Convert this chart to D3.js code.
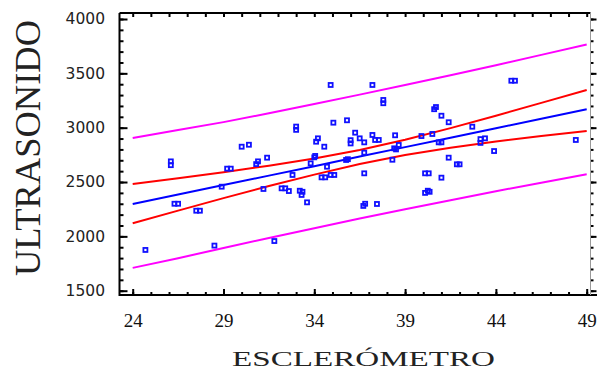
<!DOCTYPE html>
<html>
<head>
<meta charset="utf-8">
<script src="https://cdn.jsdelivr.net/npm/d3@7"></script>
<style>
  body { margin: 0; background: #fff; }
  svg { display: block; }
</style>
</head>
<body>
<svg id="chart"></svg>
<script>
// scatter: esclerómetro (x) vs ultrasonido (y)
const esclerometro = [24.7, 26.1, 26.1, 26.3, 26.5, 27.5, 27.7, 28.5, 28.9, 29.2, 29.4, 30.0, 30.4, 30.8, 30.9,
  31.4, 31.2, 31.8, 32.2, 32.4, 32.6, 32.8, 33.0, 33.0, 33.2, 33.35, 33.3, 33.6, 33.8, 34.0, 34.05, 34.2, 34.1,
  34.55, 34.7, 34.4, 34.6, 34.9, 34.9, 35.1, 35.05, 35.8, 35.75, 35.85, 36.0, 36.0, 36.25, 36.5, 36.75, 36.75,
  36.75, 36.7, 36.8, 37.45, 37.2, 37.8, 37.8, 37.2, 37.35, 37.55, 38.3, 38.45, 38.65, 38.4, 38.5, 39.9, 40.5,
  40.85, 41.0, 40.6, 40.7, 41.0, 41.4, 40.1, 40.3, 40.1, 40.25, 40.35, 41.4, 41.85, 42.0, 41.0, 42.7, 43.15,
  43.15, 43.4, 43.9, 44.85, 45.05, 48.4];
const ultrasonido = [1875, 2655, 2690, 2300, 2300, 2236, 2236, 1915, 2457, 2623, 2623, 2825, 2843, 2665, 2690,
  2724, 2436, 1957, 2442, 2442, 2417, 2565, 2980, 3010, 2420, 2410, 2381, 2313, 2672, 2727, 2740, 2902, 2871,
  2825, 2641, 2543, 2543, 3393, 2565, 2565, 3046, 3068, 2703, 2710, 2855, 2885, 2954, 2902, 2865, 2770,
  2580, 2280, 2300, 2298, 3393, 3225, 3255, 2933, 2887, 2887, 2705, 2930, 2841, 2810, 2800, 2923, 2942,
  2865, 2865, 3170, 3190, 3110, 3050, 2580, 2580, 2400, 2420, 2410, 2724, 2663, 2663, 2540, 3009, 2860,
  2895, 2902, 2785, 3432, 3432, 2887];

// fitted line and limits, read at these x positions
const lineX = [24, 26.5, 29, 31.5, 34, 36.5, 39, 41.5, 44, 46.5, 49];
const fitY = [2298, 2385, 2472, 2559, 2646, 2734, 2821, 2908, 2995, 3082, 3169];
const confUpper = [2482, 2534, 2590, 2650, 2717, 2795, 2889, 2996, 3110, 3228, 3347];
const confLower = [2120, 2237, 2352, 2463, 2568, 2665, 2749, 2816, 2873, 2923, 2969];
const predUpper = [2905, 2978, 3051, 3133, 3217, 3304, 3392, 3483, 3575, 3670, 3766];
const predLower = [1710, 1799, 1893, 1985, 2075, 2164, 2250, 2333, 2415, 2494, 2572];

const xTicks = [24, 29, 34, 39, 44, 49];
const yTicks = [1500, 2000, 2500, 3000, 3500, 4000];

const W = 597, H = 372;
const frame = { left: 119.5, right: 590.5, top: 13, bottom: 295 };

const svg = d3.select('#chart').attr('width', W).attr('height', H);

const x = d3.scaleLinear().domain([24, 49]).range([132.7, 586.7]);
const y = d3.scaleLinear().domain([1500, 4000]).range([290.7, 19]);

// ticks (inward on left/bottom/top, outward on the right edge)
const tickStyle = g => {
  g.select('.domain').remove();
  g.selectAll('line').attr('stroke', '#000').attr('stroke-width', 2);
};

svg.append('g').attr('transform', `translate(${frame.left},0)`)
  .call(d3.axisRight(y).tickValues(yTicks).tickSize(8).tickFormat(''))
  .call(tickStyle);
svg.append('g').attr('transform', `translate(${frame.left},0)`)
  .call(d3.axisRight(y).tickValues(d3.range(1500, 4001, 100)).tickSize(4).tickFormat(''))
  .call(tickStyle);
svg.append('g').attr('transform', `translate(${frame.right},0)`)
  .call(d3.axisRight(y).tickValues(yTicks).tickSize(6).tickFormat(''))
  .call(tickStyle);
svg.append('g').attr('transform', `translate(${frame.right},0)`)
  .call(d3.axisRight(y).tickValues(d3.range(1500, 4001, 100)).tickSize(3).tickFormat(''))
  .call(tickStyle);

svg.append('g').attr('transform', `translate(0,${frame.bottom})`)
  .call(d3.axisTop(x).tickValues(xTicks).tickSize(6).tickFormat(''))
  .call(tickStyle);
svg.append('g').attr('transform', `translate(0,${frame.bottom})`)
  .call(d3.axisTop(x).tickValues(d3.range(24, 50, 1)).tickSize(3).tickFormat(''))
  .call(tickStyle);
svg.append('g').attr('transform', `translate(0,${frame.top})`)
  .call(d3.axisBottom(x).tickValues(d3.range(24, 50, 1)).tickSize(4).tickFormat(''))
  .call(tickStyle);

// tick labels
svg.append('g').attr('transform', `translate(${frame.left},0)`)
  .call(d3.axisLeft(y).tickValues(yTicks).tickSize(0).tickPadding(14.5).tickFormat(d3.format('d')))
  .call(g => g.select('.domain').remove())
  .call(g => g.selectAll('text')
    .attr('font-family', '"DejaVu Sans", sans-serif')
    .attr('font-size', 15.5)
    .attr('fill', '#222'));

svg.append('g').attr('transform', `translate(0,${frame.bottom})`)
  .call(d3.axisBottom(x).tickValues(xTicks).tickSize(0).tickPadding(19).tickFormat(d3.format('d')))
  .call(g => g.select('.domain').remove())
  .call(g => g.selectAll('text')
    .attr('font-family', '"Liberation Serif", serif')
    .attr('font-size', 19)
    .attr('fill', '#111'));

// frame
svg.append('path')
  .attr('d', `M${frame.left},${frame.top}H${frame.right}M${frame.left},${frame.top}V${frame.bottom}H597`)
  .attr('fill', 'none').attr('stroke', '#000').attr('stroke-width', 2);
svg.append('line')
  .attr('x1', frame.right).attr('x2', frame.right)
  .attr('y1', frame.top).attr('y2', frame.bottom)
  .attr('stroke', '#999').attr('stroke-width', 1);

// lines
const line = d3.line().x(d => x(d[0])).y(d => y(d[1]));
const series = [
  { vals: predUpper, color: '#ff00ff' },
  { vals: predLower, color: '#ff00ff' },
  { vals: confUpper, color: '#ff0000' },
  { vals: confLower, color: '#ff0000' },
  { vals: fitY, color: '#0000ff' }
];
series.forEach(s => {
  svg.append('path')
    .datum(lineX.map((v, i) => [v, s.vals[i]]))
    .attr('d', line)
    .attr('fill', 'none')
    .attr('stroke', s.color)
    .attr('stroke-width', 2);
});

// points
svg.append('g').selectAll('rect')
  .data(esclerometro.map((v, i) => [v, ultrasonido[i]]))
  .enter().append('rect')
  .attr('x', d => x(d[0]) - 2)
  .attr('y', d => y(d[1]) - 2)
  .attr('width', 4)
  .attr('height', 4)
  .attr('fill', 'none')
  .attr('stroke', '#1010ff')
  .attr('stroke-width', 1.8);

// axis titles
svg.append('text')
  .attr('x', 232).attr('y', 366)
  .attr('textLength', 263).attr('lengthAdjust', 'spacingAndGlyphs')
  .attr('font-family', '"Liberation Serif", serif')
  .attr('font-size', 21)
  .attr('fill', '#222')
  .text('ESCLERÓMETRO');

svg.append('text')
  .attr('transform', 'translate(40,276) rotate(-90)')
  .attr('textLength', 256).attr('lengthAdjust', 'spacingAndGlyphs')
  .attr('font-family', '"Liberation Serif", serif')
  .attr('font-size', 36)
  .attr('fill', '#222')
  .text('ULTRASONIDO');
</script>
</body>
</html>
